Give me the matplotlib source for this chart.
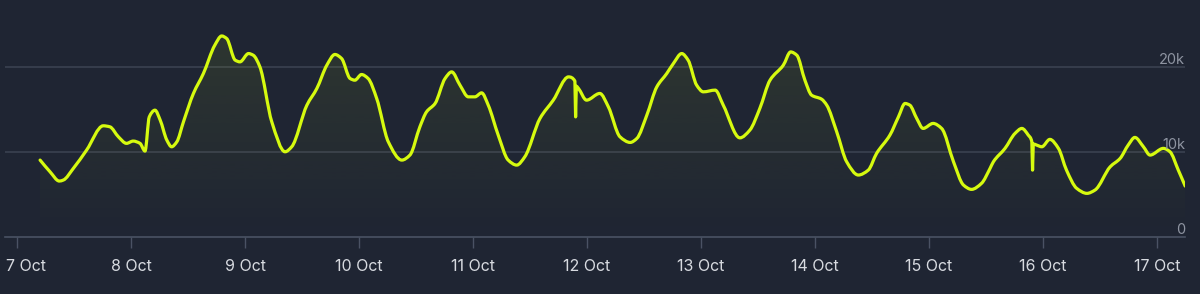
import numpy as np
import matplotlib
matplotlib.use("Agg")
import matplotlib.pyplot as plt
from matplotlib.transforms import ScaledTranslation
from matplotlib.colors import to_rgb
from matplotlib.path import Path
from matplotlib.patches import PathPatch

# hours since 7 Oct 00:00
hours = [4.8, 6.9, 8.85, 9.7, 11.8, 14.6, 18.1, 19.5, 21.3, 23.0, 24.4, 25.85, 26.9, 27.8, 29.0,
         30.1, 31.5, 32.5, 33.6, 35.0, 37.1, 39.2, 41.6, 43.05, 44.1, 45.9, 46.9, 48.7, 49.7,
         51.1, 53.6, 56.4, 57.8, 61.0, 63.1, 65.2, 66.9, 68.3, 70.1, 71.1, 72.5, 73.9, 75.7,
         78.15, 81.0, 82.7, 84.8, 86.2, 88.0, 90.1, 91.5, 93.25, 95.0, 96.4, 97.8, 99.2, 101.3,
         103.4, 105.2, 106.9, 110.1, 112.9, 116.1, 117.45, 117.6, 117.75, 118.2, 119.9, 122.7,
         124.5, 126.95, 129.1, 130.5, 132.6, 134.7, 136.8, 138.2, 139.95, 141.3, 143.1, 144.5,
         147.0, 148.7, 152.2, 154.3, 156.4, 158.55, 161.35, 162.9, 164.2, 165.9, 167.3, 169.4,
         170.5, 172.6, 174.7, 177.15, 179.25, 181.0, 183.8, 185.6, 187.0, 188.0, 189.45, 190.8,
         192.9, 194.7, 197.2, 199.3, 201.0, 203.1, 204.9, 205.6, 208.05, 210.15, 211.6, 212.95,
         213.7, 213.85, 214.0, 214.7, 215.8, 217.5, 219.3, 221.0, 223.15, 225.3, 227.0, 230.2,
         232.3, 234.0, 235.4, 237.2, 238.6, 241.4, 242.8, 244.55, 246.0]

players = [9000, 7620, 6530, 6650, 8020, 10180, 13040, 12920, 11740, 10970, 11240, 10970, 10060,
           14090, 14880, 13710, 11350, 10570, 11150, 13510, 16850, 19200, 22530, 23620, 23320,
           20770, 20570, 21550, 21350, 19980, 13510, 9980, 10570, 15470, 17440, 20180, 21440,
           20970, 18610, 18410, 19080, 18610, 16260, 11150, 9000, 9590, 12920, 14680, 15670,
           18610, 19390, 17820, 16450, 16450, 16920, 15470, 11940, 9000, 8410, 9390, 13910,
           16060, 18800, 18300, 14090, 17700, 17440, 16060, 16850, 15270, 11740, 11080, 11550,
           14290, 17620, 19200, 20380, 21550, 20770, 17820, 17040, 17240, 15470, 11620, 12530,
           15080, 18410, 20180, 21740, 21350, 18410, 16650, 16180, 15470, 12330, 8800, 7240,
           7820, 9790, 11940, 14090, 15670, 15470, 13910, 12730, 13320, 12730, 8800, 6060, 5550,
           6260, 8020, 8800, 10380, 12140, 12730, 11940, 11150, 7820, 10900, 10770, 10570, 11440,
           10380, 7820, 5670, 5080, 5470, 8210, 9200, 10770, 11670, 10570, 9590, 10380, 9980,
           7820, 5940]

tick_hours = [0, 24, 48, 72, 96, 120, 144, 168, 192, 216, 240]
tick_labels = ["7 Oct", "8 Oct", "9 Oct", "10 Oct", "11 Oct", "12 Oct", "13 Oct",
               "14 Oct", "15 Oct", "16 Oct", "17 Oct"]
y_ticks = [0, 10000, 20000]
y_labels = ["0", "10k", "20k"]

BG = "#1f2533"
LINE = "#d6fa0f"
GRID = "#3a4150"
BASE = "#4a5264"


def pchip_slopes(x, y):
    h = np.diff(x)
    d = np.diff(y) / h
    m = np.zeros_like(y, dtype=float)
    for i in range(1, len(x) - 1):
        if d[i - 1] * d[i] > 0:
            w1 = 2 * h[i] + h[i - 1]
            w2 = h[i] + 2 * h[i - 1]
            m[i] = (w1 + w2) / (w1 / d[i - 1] + w2 / d[i])
    m[0] = d[0]
    m[-1] = d[-1]
    return m


def smooth_path(x, y):
    m = pchip_slopes(x, y)
    verts = [(x[0], y[0])]
    codes = [Path.MOVETO]
    for i in range(len(x) - 1):
        h = x[i + 1] - x[i]
        verts += [(x[i] + h / 3, y[i] + m[i] * h / 3),
                  (x[i + 1] - h / 3, y[i + 1] - m[i + 1] * h / 3),
                  (x[i + 1], y[i + 1])]
        codes += [Path.CURVE4] * 3
    return verts, codes


W, H = 1200, 294
fig = plt.figure(figsize=(W / 100, H / 100), dpi=100, facecolor=BG)
left_px, right_px, top_px, bottom_px = 5, 1185, 16, 236.5
ax = fig.add_axes([left_px / W, (H - bottom_px) / H, (right_px - left_px) / W,
                   (bottom_px - top_px) / H])
ax.set_facecolor(BG)

px_per_hour = 113.94 / 24
x0 = -(17.3 - left_px) / px_per_hour
x1 = x0 + (right_px - left_px) / px_per_hour
ymax = 20000 * (bottom_px - top_px) / (bottom_px - 66.7)

hours_a = np.array(hours, dtype=float)
players_a = np.array(players, dtype=float)

verts, codes = smooth_path(hours_a, players_a)
line_path = Path(verts, codes)
fill_verts = verts + [(hours_a[-1], 0), (hours_a[0], 0), (hours_a[0], players_a[0])]
fill_codes = codes + [Path.LINETO, Path.LINETO, Path.CLOSEPOLY]
fill_path = Path(fill_verts, fill_codes)

# gradient fill under the curve
r, g, b = to_rgb(LINE)
n = 256
grad = np.zeros((n, 1, 4))
grad[:, 0, 0] = r
grad[:, 0, 1] = g
grad[:, 0, 2] = b
grad[:, 0, 3] = np.linspace(0.085, 0.0, n)
im = ax.imshow(grad, aspect="auto", extent=[x0, x1, 0, 24000], origin="upper",
               zorder=1, interpolation="bilinear")
im.set_clip_path(fill_path, transform=ax.transData)
ax.set_xlim(x0, x1)
ax.set_ylim(0, ymax)

for yv in y_ticks[1:]:
    ax.axhline(yv, color=GRID, lw=1.2, zorder=0.5)

ax.add_patch(PathPatch(line_path, facecolor="none", edgecolor=LINE, lw=2.3,
                       joinstyle="round", capstyle="round", zorder=3))

for s in ["top", "right", "left"]:
    ax.spines[s].set_visible(False)
ax.spines["bottom"].set_color(BASE)
ax.spines["bottom"].set_linewidth(1.2)

ax.set_yticks([])
ax.set_xticks(tick_hours)
ax.set_xticklabels(tick_labels, fontsize=11.5, color="#d7dae0", family=["Inter", "DejaVu Sans"])
ax.tick_params(axis="x", length=8, width=1, color=BASE, pad=8)
first = ax.get_xticklabels()[0]
first.set_ha("left")
first.set_transform(first.get_transform() + ScaledTranslation(-11.5 / 100, 0, fig.dpi_scale_trans))

for yv, lab in zip(y_ticks, y_labels):
    ax.text(1.0, yv, lab, transform=ax.get_yaxis_transform(), ha="right", va="bottom",
            fontsize=10.5, color="#8e94a1", family=["Inter", "DejaVu Sans"],
            zorder=4)

fig.savefig("out.png", dpi=100, facecolor=BG)
